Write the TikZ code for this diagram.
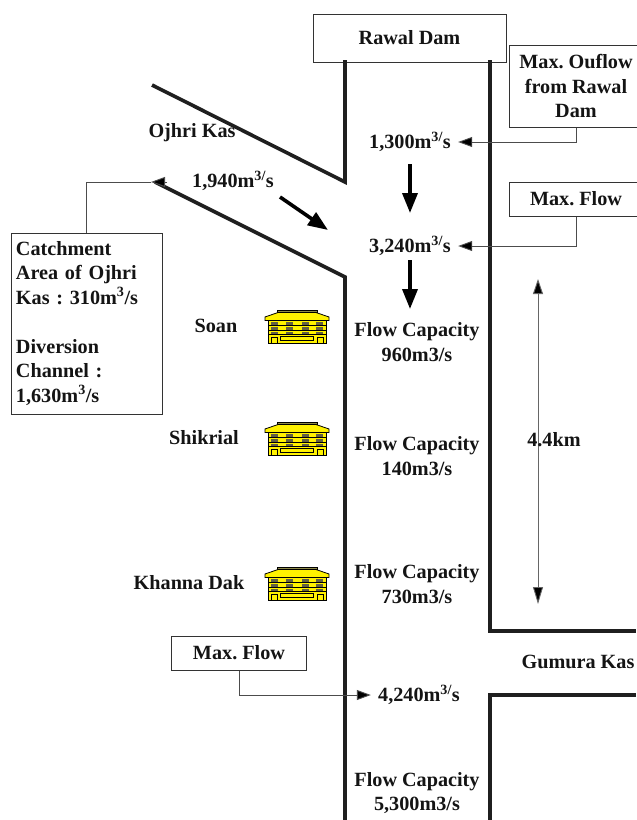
\documentclass[tikz,border=0pt]{standalone}
\usepackage{fontspec}
\setmainfont{Liberation Serif}
\usepackage{xcolor}
\usetikzlibrary{positioning,arrows.meta}

\begin{document}
\begin{tikzpicture}[
  x=1pt, y=-1pt,
  lab/.style={font=\fontsize{20.2}{24.5}\selectfont\bfseries\frenchspacing, inner sep=0pt, align=center, text=black!92},
  box/.style={lab, rectangle, draw=black!80, line width=1pt, fill=white},
  wall/.style={line width=3.6pt, draw=black!88, line join=miter},
  thinline/.style={line width=0.9pt, draw=black!70},
  lead/.style={thinline, -{Triangle[length=14pt,width=10pt,fill=black]}},
  span/.style={line width=0.9pt, draw=black!60, {Triangle[length=15pt,width=10pt,fill=black]}-{Triangle[length=17pt,width=10pt,fill=black]}},
  flow/.style={line width=3.6pt, -{Triangle[length=20pt,width=15pt]}},
  pics/house/.style={code={
    \fill[yellow, draw=black, line width=0.8pt] (-29,8) rectangle (29,33);
    \fill[yellow!50!black, draw=black, line width=0.5pt] (-20,0) rectangle (20,2.5);
    \fill[yellow, draw=black, line width=0.8pt] (-32,7) -- (-19,2.5) -- (19,2.5) -- (32,7) -- (32,10.5) -- (-32,10.5) -- cycle;
    \foreach \r in {12,17,22} {
      \foreach \c in {-23,-8,8,22} \fill[yellow!30!black] (\c-3.5,\r) rectangle (\c+3.5,\r+3);
    }
    \foreach \r in {15.5,20,24.5} \draw[black, line width=0.8pt] (-29,\r) -- (29,\r);
    \draw[black, fill=yellow, line width=0.8pt] (-26,33) rectangle (-20,27.5);
    \draw[black, fill=yellow, line width=0.8pt] (20,33) rectangle (26,27.5);
    \draw[black, fill=yellow, line width=0.8pt] (-17,30.5) rectangle (16,26.5);
  }},
  node distance=14pt and 16pt
]
  \useasboundingbox (0,0) rectangle (637,820);
  \fill[white] (0,0) rectangle (637,820);

  % river banks
  \coordinate (DL) at (345,60);
  \coordinate (DR) at (490,60);
  \coordinate (OT) at (152,85);
  \coordinate (OM) at (345,182);
  \coordinate (OB) at (155,182);
  \coordinate (OC) at (345,277);
  \coordinate (LE) at (345,820);
  \coordinate (GA) at (490,631);
  \coordinate (GB) at (636,631);
  \coordinate (GC) at (636,695);
  \coordinate (GD) at (490,695);
  \coordinate (RE) at (490,820);

  \draw[wall] (OT)--(OM)--(DL);
  \draw[wall] (OB)--(OC)--(LE);
  \draw[wall] (DR)--(GA)--(GB);
  \draw[wall] (GC)--(GD)--(RE);

  % boxes
  \node[box, minimum width=193pt, minimum height=48pt] (dam) at (409.5,38) {Rawal Dam};
  \draw[wall] (DL)--++(0,3);
  \draw[wall] (DR)--++(0,3);
  \node[box, minimum width=134pt, minimum height=82pt] (outbox) at (576,86) {Max. Ouflow\\from Rawal\\Dam};
  \node[box, minimum width=134pt, minimum height=34pt] (maxa) at (576,199) {Max. Flow};
  \node[box, minimum width=135pt, minimum height=34pt] (maxb) at (239,653) {Max. Flow};
  \node[box, minimum width=151pt, minimum height=181pt, align=left, text width=141pt] (catch) at (86.5,323.5)
    {Catchment\\Area of Ojhri\\Kas : 310m\textsuperscript{3}/s\\[24.5pt]Diversion\\Channel :\\1,630m\textsuperscript{3}/s};

  % flow values
  \node[lab, minimum width=96pt, minimum height=20pt] (qa) at (410,142) {1,300m\textsuperscript{3/}s};
  \node[lab, minimum width=96pt, minimum height=20pt] (qb) at (410,246) {3,240m\textsuperscript{3/}s};
  \node[lab, minimum width=96pt, minimum height=20pt] (qc) at (419,695) {4,240m\textsuperscript{3/}s};
  \node[lab] (qd) at (233,181) {1,940m\textsuperscript{3/}s};

  % capacities
  \node[lab] (capa) at (417,342) {Flow Capacity\\960m3/s};
  \node[lab, below=75pt of capa] (capb) {Flow Capacity\\140m3/s};
  \node[lab, below=89pt of capb] (capc) {Flow Capacity\\730m3/s};
  \node[lab, below=168pt of capc] (capd) {Flow Capacity\\5,300m3/s};

  % places
  \node[lab] (ojhri) at (192,133) {Ojhri Kas};
  \node[lab] (soan) at (216,326) {Soan};
  \node[lab] (shik) at (204,438) {Shikrial};
  \node[lab] (khan) at (189,583) {Khanna Dak};
  \node[lab] (gum) at (578,662) {Gumura Kas};
  \pic at (297,310) {house};
  \pic at (297,422) {house};
  \pic at (297,567) {house};

  % span of the reach
  \coordinate (SA) at (538,279);
  \coordinate (SB) at (538,604);
  \draw[span] (SA)--(SB);
  \node[lab] (dist) at (554,440) {4.4km};

  % leaders
  \coordinate (tip) at (151,182);
  \coordinate (tail) at (167,182);
  \draw[lead] (outbox.south) |- (qa.east);
  \draw[lead] (maxa.south) |- (qb.east);
  \draw[lead] (maxb.south) |- (qc.west);
  \draw[thinline] (catch.north) |- (tip);
  \draw[lead] (tail)--(tip);

  % flow arrows
  \coordinate (FA) at (410,164);
  \coordinate (FB) at (410,213);
  \coordinate (FC) at (410,260);
  \coordinate (FD) at (410,309);
  \coordinate (FE) at (280,197);
  \coordinate (FF) at (328,230);
  \draw[flow] (FA)--(FB);
  \draw[flow] (FC)--(FD);
  \draw[flow] (FE)--(FF);
\end{tikzpicture}
\end{document}
